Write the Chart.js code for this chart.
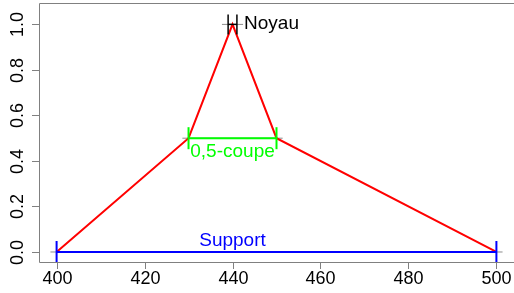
<!DOCTYPE html>
<html>
<head>
<meta charset="utf-8">
<script src="https://cdn.jsdelivr.net/npm/chart.js@4/dist/chart.umd.min.js"></script>
<style>
  html, body { margin: 0; padding: 0; background: #fff; }
  #wrap { width: 514px; height: 293px; position: relative; }
</style>
</head>
<body>
<div id="wrap"><canvas id="chart"></canvas></div>
<script>
// ======= Données =======
const xPoints = [400, 430, 440, 450, 500];      // abscisses de la fonction d'appartenance
const muPoints = [0, 0.5, 1, 0.5, 0];           // degrés d'appartenance
const supportX = [400, 500];                    // support (niveau 0)
const coupeX = [430, 450];                      // 0,5-coupe
const noyauX = [439, 441];                      // noyau (niveau 1)
const xTicks = [400, 420, 440, 460, 480, 500];
const yTicks = [0, 0.2, 0.4, 0.6, 0.8, 1.0];

const FONT = '"Liberation Sans", Arial, Helvetica, sans-serif';
const EXT = 1.4; // petit trait gris qui dépasse des intervalles

function seg(xs, y) { return xs.map(x => ({ x: x, y: y })); }
function guide(xs, y) { return [{ x: xs[0] - EXT, y: y }, { x: xs[1] + EXT, y: y }]; }

function interval(xs, y, color, capR, w) {
    return {
        data: seg(xs, y),
        borderColor: color,
        borderWidth: w,
        showLine: true,
        pointStyle: 'line',
        rotation: 90,
        pointRadius: capR,
        pointBorderWidth: w,
        pointBorderColor: color
    };
}

function gray(xs, y) {
    return { data: guide(xs, y), borderColor: '#8c8c8c', borderWidth: 1, showLine: true, pointRadius: 0 };
}

// ======= Axes, boîte et étiquettes à la R =======
const rAxes = {
    id: 'rAxes',
    afterDraw(chart) {
        const ctx = chart.ctx;
        const a = chart.chartArea;
        const sx = chart.scales.x, sy = chart.scales.y;
        ctx.save();
        ctx.strokeStyle = '#808080';
        ctx.lineWidth = 1;
        // boîte
        ctx.beginPath();
        ctx.moveTo(a.right + 2, a.top + 0.5);
        ctx.lineTo(a.left + 0.5, a.top + 0.5);
        ctx.lineTo(a.left + 0.5, a.bottom + 0.5);
        ctx.lineTo(a.right + 2, a.bottom + 0.5);
        ctx.stroke();
        // graduations x
        ctx.fillStyle = '#000';
        ctx.font = '18px ' + FONT;
        ctx.textAlign = 'center';
        ctx.textBaseline = 'alphabetic';
        xTicks.forEach(v => {
            const px = Math.round(sx.getPixelForValue(v)) + 0.5;
            ctx.beginPath();
            ctx.moveTo(px, a.bottom);
            ctx.lineTo(px, a.bottom + 7);
            ctx.stroke();
            ctx.fillText(String(v), px, 284);
        });
        // graduations y
        yTicks.forEach(v => {
            const py = Math.round(sy.getPixelForValue(v)) + 0.5;
            ctx.beginPath();
            ctx.moveTo(a.left, py);
            ctx.lineTo(a.left - 7, py);
            ctx.stroke();
            ctx.save();
            ctx.translate(23, py);
            ctx.rotate(-Math.PI / 2);
            ctx.fillText(v.toFixed(1), 0, 0);
            ctx.restore();
        });
        // annotations
        ctx.font = '19px ' + FONT;
        ctx.fillStyle = '#000';
        ctx.textAlign = 'left';
        ctx.fillText('Noyau', sx.getPixelForValue(noyauX[1] + EXT) + 1, sy.getPixelForValue(1) + 5);
        ctx.fillStyle = '#00ff00';
        ctx.textAlign = 'center';
        ctx.fillText('0,5-coupe', sx.getPixelForValue((coupeX[0] + coupeX[1]) / 2), sy.getPixelForValue(0.5) + 19);
        ctx.fillStyle = '#0000ff';
        ctx.fillText('Support', sx.getPixelForValue(440), sy.getPixelForValue(0) - 6);
        ctx.restore();
    }
};

// Chart.js dessine le premier jeu de données au-dessus : intervalles d'abord, traits gris en dernier
new Chart(document.getElementById('chart').getContext('2d'), {
    type: 'scatter',
    data: {
        datasets: [
            interval(noyauX, 1, '#000000', 10, 1.5),
            interval(coupeX, 0.5, '#00ff00', 11, 2),
            interval(supportX, 0, '#0000ff', 11, 2),
            {
                data: xPoints.map((x, i) => ({ x: x, y: muPoints[i] })),
                borderColor: '#ff0000',
                borderWidth: 2,
                showLine: true,
                pointRadius: 0
            },
            gray(noyauX, 1),
            gray(coupeX, 0.5),
            gray(supportX, 0)
        ]
    },
    options: {
        responsive: true,
        maintainAspectRatio: false,
        animation: false,
        events: [],
        layout: { autoPadding: false, padding: { left: 39, right: 0, top: 3, bottom: 31 } },
        plugins: { legend: { display: false }, tooltip: { enabled: false } },
        scales: {
            x: { type: 'linear', min: 396, max: 504, display: false },
            y: { type: 'linear', min: -0.044, max: 1.094, display: false }
        }
    },
    plugins: [rAxes]
});
</script>
</body>
</html>
